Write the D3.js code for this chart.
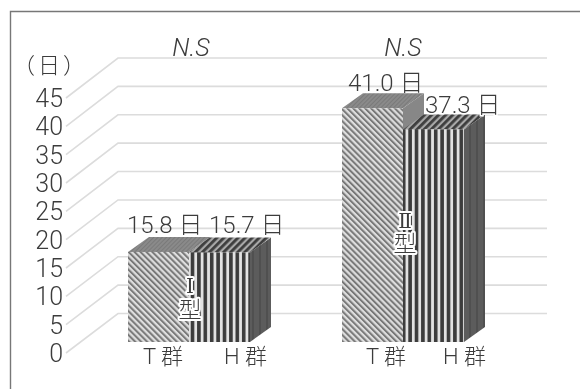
<!DOCTYPE html>
<html><head><meta charset="utf-8">
<script src="https://cdn.jsdelivr.net/npm/d3@7"></script>
<style>html,body{margin:0;padding:0;background:#fff}svg{display:block;filter:blur(.35px)}
text{font-family:Roboto,"Noto Sans CJK JP",sans-serif;font-weight:300;fill:#3c3c3c}</style>
</head><body><div id="c"></div>
<script>
const groups = ["Ⅰ型","Ⅱ型"];
const seriesNames = ["T群","H群"];
const tLabels = ["T 群","T 群"];
const hLabels = ["H 群","H 群"];
const tValues = [15.8,41.0];
const hValues = [15.7,37.3];
const valueLabels = [["15.8 日","15.7 日"],["41.0 日","37.3 日"]];
const significance = ["N.S","N.S"];
const ticks = [0,5,10,15,20,25,30,35,40,45];
const unit = "（日）";

const W=580,H=389;
const svg=d3.select("#c").append("svg").attr("width",W).attr("height",H);
const defs=svg.append("defs");
function pat(id,w,h,tr,draw){const p=defs.append("pattern").attr("id",id).attr("patternUnits","userSpaceOnUse").attr("width",w).attr("height",h);if(tr)p.attr("patternTransform",tr);draw(p);}
pat("hatch",4.2,4.2,"rotate(-45)",p=>{p.append("rect").attr("width",4.2).attr("height",4.2).attr("fill","#dedede");p.append("rect").attr("width",2).attr("height",4.2).attr("fill","#787878");});
pat("stripes",6.4,10,"translate(190.7,0)",p=>{p.append("rect").attr("width",6.4).attr("height",10).attr("fill","#e2e2e2");p.append("rect").attr("width",3.6).attr("height",10).attr("fill","#3c3c3c");});
pat("topT",3,3,"rotate(45)",p=>{p.append("rect").attr("width",3).attr("height",3).attr("fill","#8a8a8a");p.append("rect").attr("width",1).attr("height",3).attr("fill","#7a7a7a");});
pat("topH",5,5,"rotate(45)",p=>{p.append("rect").attr("width",5).attr("height",5).attr("fill","#a8a8a8");p.append("rect").attr("width",2.8).attr("height",5).attr("fill","#3d3d3d");});
pat("sideH",7,10,null,p=>{p.append("rect").attr("width",7).attr("height",10).attr("fill","#5c5c5c");p.append("rect").attr("width",2).attr("height",10).attr("fill","#505050");});

// frame
svg.append("path").attr("d",`M10.5 ${H}V11.5H${W}`).attr("fill","none").attr("stroke","#777").attr("stroke-width",1.4);

// axis
const yFront=d3.scaleLinear().domain([0,45]).range([353,98]);
const yBack=d3.scaleLinear().domain([0,45]).range([313.5,58]);
const xFront=66,xBack=118,xEnd=547;
svg.append("g").selectAll("path").data(ticks).join("path")
 .attr("d",d=>`M${xFront} ${yFront(d)}L${xBack} ${yBack(d)}H${xEnd}`)
 .attr("fill","none").attr("stroke","#dcdcdc").attr("stroke-width",1.6);
svg.append("g").selectAll("text").data(ticks).join("text")
 .attr("x",63).attr("y",d=>yFront(d)+9).attr("text-anchor","end").attr("font-size",25).text(d=>d);
svg.append("text").attr("x",50.5).attr("y",73).attr("text-anchor","middle").attr("font-size",22).attr("letter-spacing",3).text(unit);

// bars
const x0=d3.scaleBand().domain(groups).range([128,556]);
const x1=d3.scaleBand().domain(seriesNames).range([0,122]);
const hScale=d3.scaleLinear().domain([0,45]).range([0,256.5]);
const baseY=342,dx=21,dy=15;
const catX=[[143,224],[366,443]];
const typeX=[190,405], typeY=[[293,318],[228,252]];
groups.forEach((g,i)=>{
  const vals=[tValues[i],hValues[i]];
  const G=svg.append("g");
  [0,1].forEach(j=>{
    const xl=x0(g)+x1(seriesNames[j]), w=x1.bandwidth(), v=vals[j], top=baseY-hScale(v), xr=xl+w;
    G.append("path").attr("d",`M${xr} ${top}L${xr+dx} ${top-dy}V${baseY-dy}L${xr} ${baseY}Z`)
      .attr("fill",j===0?"#878787":"url(#sideH)");
    G.append("path").attr("d",`M${xl} ${top}L${xl+dx} ${top-dy}H${xr+dx}L${xr} ${top}Z`)
      .attr("fill",j===0?"url(#topT)":"url(#topH)");
    G.append("rect").attr("x",xl).attr("y",top).attr("width",w).attr("height",hScale(v))
      .attr("fill",j===0?"url(#hatch)":"url(#stripes)");
  });
  [tLabels[i],hLabels[i]].forEach((t,j)=>{
    svg.append("text").attr("x",catX[i][j]).attr("y",364).attr("font-size",22).text(t);
  });
  [...g].forEach((ch,k)=>{
    svg.append("text").attr("x",typeX[i]).attr("y",typeY[i][k]).attr("text-anchor","middle")
      .attr("font-size",k?23:20).style("font-family",k?null:'"DejaVu Serif"')
      .attr("stroke","#fff").attr("stroke-width",4).attr("paint-order","stroke").attr("stroke-linejoin","round").text(ch);
  });
});

// value labels
const labelX=[[127,209],[348,425]], labelY=[[233,233],[91,113]];
valueLabels.forEach((pair,i)=>pair.forEach((t,j)=>{
  svg.append("text").attr("x",labelX[i][j]).attr("y",labelY[i][j]).attr("font-size",24)
    .attr("stroke","#fff").attr("stroke-width",i===1&&j===1?3:0).attr("paint-order","stroke").text(t);
}));
// significance
const sigX=[191,403];
significance.forEach((t,i)=>{
  svg.append("text").attr("x",sigX[i]).attr("y",56).attr("text-anchor","middle").attr("font-size",25).attr("font-style","italic").text(t);
});
</script></body></html>
